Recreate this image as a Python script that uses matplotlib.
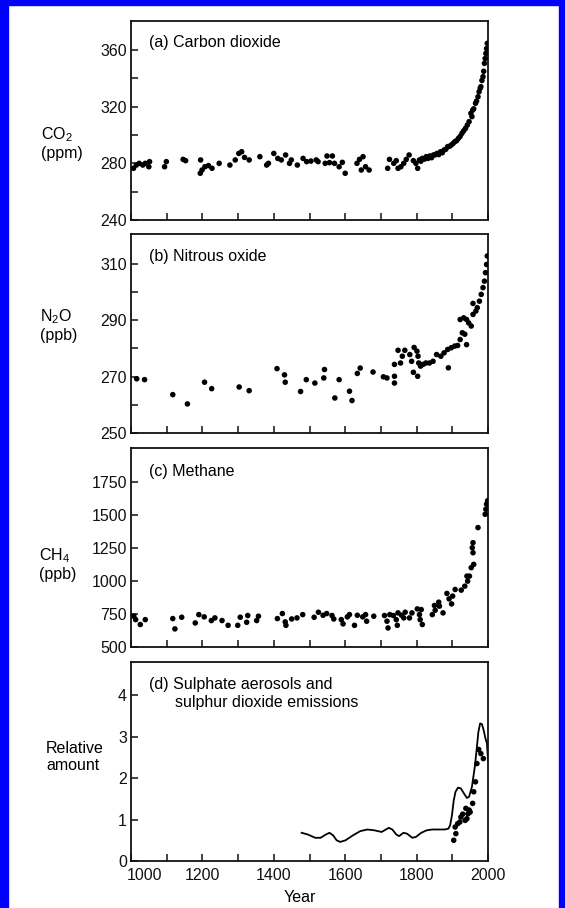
import matplotlib
matplotlib.use('Agg')
import matplotlib.pyplot as plt
from matplotlib.patches import Rectangle
import matplotlib.transforms as mtransforms

plt.rcParams['font.family'] = ['Liberation Sans', 'DejaVu Sans']
plt.rcParams['mathtext.fontset'] = 'custom'
plt.rcParams['mathtext.rm'] = 'Liberation Sans'
plt.rcParams['mathtext.it'] = 'Liberation Sans:italic'
plt.rcParams['mathtext.bf'] = 'Liberation Sans:bold'

# ---------------- data ----------------
co2_years = [1007, 1015, 1023, 1033, 1040, 1050, 1052, 1094, 1099, 1146, 1153,
             1195, 1194, 1199, 1207, 1217, 1227, 1247, 1277, 1292, 1302, 1310,
             1318, 1331, 1361, 1380, 1385, 1400, 1411, 1421, 1433, 1444, 1449,
             1466, 1482, 1492, 1504, 1519, 1524, 1544, 1549, 1556, 1564, 1570,
             1583, 1592, 1600, 1633, 1640, 1650, 1645, 1657, 1667, 1719, 1724,
             1736, 1743, 1748, 1756, 1764, 1771, 1779, 1791, 1798, 1803, 1808,
             1812, 1816, 1822, 1827, 1832, 1837, 1842, 1847, 1852, 1857, 1862,
             1867, 1872, 1877, 1882, 1887, 1892, 1897, 1902, 1907, 1912, 1917,
             1922, 1927, 1932, 1937, 1942, 1947, 1952, 1955, 1957, 1960, 1965,
             1968, 1972, 1975, 1978, 1980, 1983, 1986, 1988, 1990, 1992, 1994,
             1996, 1998]
co2_ppm = [276.5, 278.8, 280.0, 278.8, 280.0, 277.6, 281.2, 277.6, 281.2, 282.8, 281.9,
           282.4, 273.0, 275.3, 277.6, 278.4, 276.5, 280.0, 278.8, 282.4, 287.0, 288.2,
           284.2, 282.4, 284.7, 278.8, 280.0, 287.0, 283.5, 282.4, 285.9, 280.0, 282.4,
           278.8, 283.5, 281.2, 281.6, 282.4, 281.2, 280.0, 285.2, 280.5, 285.2, 280.0,
           277.6, 280.7, 273.0, 280.0, 282.8, 284.7, 275.3, 277.6, 275.3, 276.5, 282.8,
           280.0, 281.9, 276.5, 277.6, 280.0, 282.8, 285.9, 281.9, 280.0, 276.5, 282.4,
           281.5, 283.5, 283.0, 284.7, 283.5, 285.2, 284.0, 285.9, 286.0, 287.0, 286.2,
           288.2, 287.5, 289.4, 290.0, 291.8, 292.0, 292.9, 294.0, 295.3, 296.0, 297.6,
           299.0, 301.2, 303.0, 304.7, 307.0, 309.4, 315.3, 313.0, 317.6, 318.5, 322.4,
           324.0, 327.0, 330.5, 333.0, 334.1, 338.5, 341.2, 345.0, 350.6, 354.0, 357.6,
           361.0, 364.7]

n2o_years = [1016, 1038, 1117, 1158, 1206, 1226, 1303, 1331, 1409, 1430, 1432,
             1475, 1491, 1515, 1540, 1542, 1571, 1583, 1612, 1619, 1634, 1642,
             1678, 1707, 1717, 1738, 1738, 1738, 1748, 1755, 1760, 1767, 1781,
             1786, 1793, 1791, 1801, 1804, 1806, 1803, 1811, 1818, 1826, 1836,
             1846, 1856, 1868, 1877, 1887, 1889, 1897, 1907, 1915, 1922, 1928,
             1940, 1935, 1922, 1932, 1940, 1946, 1953, 1958, 1966, 1958, 1970,
             1976, 1981, 1986, 1990, 1993, 1996, 1998]
n2o_ppb = [269.2, 268.9, 263.6, 260.3, 268.0, 265.7, 266.3, 265.0, 272.8, 270.6, 268.0,
           264.7, 268.9, 267.7, 269.5, 272.5, 262.4, 268.9, 264.8, 261.5, 271.1, 273.0,
           271.6, 269.9, 269.5, 270.1, 267.7, 274.3, 279.3, 274.8, 277.2, 279.3, 277.8,
           275.4, 280.3, 271.5, 279.0, 277.2, 274.8, 270.1, 273.7, 274.3, 274.8, 274.8,
           275.4, 277.8, 277.2, 278.4, 279.6, 273.1, 280.2, 280.8, 281.0, 283.1, 285.5,
           281.3, 285.0, 290.2, 290.8, 290.2, 289.0, 287.9, 292.0, 293.2, 295.9, 294.4,
           296.7, 299.1, 301.5, 303.8, 306.8, 309.7, 312.7]

ch4_years = [1008, 1013, 1026, 1040, 1117, 1123, 1142, 1180, 1190, 1205, 1225,
             1235, 1255, 1272, 1299, 1306, 1324, 1327, 1352, 1357, 1410, 1424,
             1432, 1434, 1450, 1465, 1481, 1513, 1525, 1538, 1548, 1563, 1568,
             1589, 1594, 1606, 1612, 1626, 1634, 1649, 1657, 1660, 1680, 1710,
             1717, 1720, 1725, 1735, 1743, 1746, 1748, 1758, 1764, 1768, 1780,
             1787, 1802, 1808, 1810, 1816, 1813, 1844, 1850, 1852, 1862, 1864,
             1874, 1885, 1891, 1898, 1901, 1908, 1925, 1935, 1941, 1943, 1948,
             1953, 1956, 1958, 1960, 1958, 1972, 1992, 1994, 1996, 1999]
ch4_ppb = [733, 707, 670, 707, 715, 637, 725, 682, 745, 728, 700,
           720, 700, 664, 664, 725, 687, 738, 700, 733, 715, 753,
           690, 664, 712, 720, 745, 725, 763, 740, 753, 738, 712,
           707, 675, 728, 745, 664, 740, 728, 745, 695, 733, 738,
           695, 644, 745, 738, 707, 664, 758, 740, 720, 763, 720,
           758, 788, 745, 707, 670, 783, 745, 814, 778, 839, 809,
           758, 905, 864, 826, 885, 935, 930, 960, 1036, 998, 1036,
           1100, 1251, 1289, 1125, 1213, 1403, 1504, 1542, 1580, 1606]

so2_line_years = [1478, 1495, 1516, 1531, 1546, 1556, 1566, 1576, 1586, 1601,
                  1622, 1642, 1662, 1682, 1702, 1722, 1732, 1743, 1751, 1763,
                  1773, 1788, 1798, 1813, 1828, 1844, 1864, 1879, 1889, 1894,
                  1899, 1904, 1909, 1916, 1924, 1934, 1941, 1947, 1955, 1963,
                  1968, 1973, 1978, 1983, 1988, 1993, 1997, 2000]
so2_line_amount = [0.68, 0.64, 0.56, 0.56, 0.64, 0.68, 0.62, 0.50, 0.46, 0.50,
                   0.62, 0.72, 0.76, 0.74, 0.70, 0.80, 0.76, 0.64, 0.60, 0.68,
                   0.66, 0.56, 0.58, 0.68, 0.74, 0.76, 0.76, 0.76, 0.78, 0.86,
                   1.10, 1.46, 1.67, 1.77, 1.75, 1.61, 1.52, 1.55, 1.79, 2.27,
                   2.67, 3.11, 3.32, 3.30, 3.15, 2.95, 2.84, 2.43]

sulph_dot_years = [1904, 1910, 1908, 1915, 1921, 1924, 1929, 1936, 1941, 1938,
                   1944, 1950, 1947, 1957, 1960, 1965, 1969, 1974, 1980, 1987]
sulph_dot_amount = [0.50, 0.66, 0.82, 0.90, 0.94, 1.06, 1.13, 0.98, 1.02, 1.27,
                    1.14, 1.18, 1.23, 1.39, 1.67, 1.91, 2.35, 2.69, 2.59, 2.47]

year_ticks = list(range(1000, 2001, 100))

# ---------------- figure ----------------
W, H = 565, 908
fig = plt.figure(figsize=(W / 100, H / 100), dpi=100)

FS = 11.5
L, R = 131, 488


def make_ax(top, bottom):
    ax = fig.add_axes([L / W, 1 - bottom / H, (R - L) / W, (bottom - top) / H])
    for s in ax.spines.values():
        s.set_linewidth(1.3)
        s.set_color('#111111')
    ax.set_xlim(1000, 2000)
    ax.set_xticks(year_ticks)
    ax.tick_params(axis='both', which='both', direction='in', length=5,
                   width=1.1, labelsize=FS, pad=3, colors='#111111')
    ax.tick_params(axis='x', labelbottom=False)
    return ax


dot_kw = dict(s=16, color='black', edgecolors='none', zorder=3)

# (a) CO2
ax1 = make_ax(21, 220)
ax1.scatter(co2_years, co2_ppm, **dot_kw)
ax1.set_ylim(240, 380.5)
ax1.set_yticks([240, 280, 320, 360])
ax1.set_yticks([260, 300, 340], minor=True)
ax1.text(18 / (R - L), 1 - 22 / 199, '(a) Carbon dioxide', transform=ax1.transAxes,
         fontsize=FS, va='center', ha='left')

# (b) N2O
ax2 = make_ax(234, 433)
ax2.scatter(n2o_years, n2o_ppb, **dot_kw)
ax2.set_ylim(250, 320.5)
ax2.set_yticks([250, 270, 290, 310])
ax2.set_yticks([260, 280, 300], minor=True)
ax2.text(18 / (R - L), 1 - 23 / 199, '(b) Nitrous oxide', transform=ax2.transAxes,
         fontsize=FS, va='center', ha='left')

# (c) CH4
ax3 = make_ax(448, 647)
ax3.scatter(ch4_years, ch4_ppb, **dot_kw)
ax3.set_ylim(500, 2005)
ax3.set_yticks([500, 750, 1000, 1250, 1500, 1750])
ax3.text(18 / (R - L), 1 - 23 / 199, '(c) Methane', transform=ax3.transAxes,
         fontsize=FS, va='center', ha='left')

# (d) Sulphate
ax4 = make_ax(662, 861)
ax4.plot(so2_line_years, so2_line_amount, color='black', lw=1.3, zorder=2)
ax4.scatter(sulph_dot_years, sulph_dot_amount, **dot_kw)
ax4.set_ylim(0, 4.8)
ax4.set_yticks([0, 1, 2, 3, 4])
ax4.tick_params(axis='x', labelbottom=True, pad=5)
ax4.set_xticks(year_ticks)
ax4.set_xticklabels([str(y) if (y % 200 == 0) else '' for y in year_ticks])
first = ax4.get_xticklabels()[0]
first.set_horizontalalignment('left')
first.set_transform(first.get_transform() +
                    mtransforms.ScaledTranslation(-4 / 100, 0, fig.dpi_scale_trans))
ax4.text(18 / (R - L), 1 - 22 / 199, '(d) Sulphate aerosols and', transform=ax4.transAxes,
         fontsize=FS, va='center', ha='left')
ax4.text(44 / (R - L), 1 - 41 / 199, 'sulphur dioxide emissions', transform=ax4.transAxes,
         fontsize=FS, va='center', ha='left')

# y-axis labels
lab_kw = dict(fontsize=FS, ha='left', va='center', multialignment='left', linespacing=1.15)
fig.text(41 / W, 1 - 143 / H, 'CO$_2$\n(ppm)', **lab_kw)
fig.text(40 / W, 1 - 325 / H, 'N$_2$O\n(ppb)', **lab_kw)
fig.text(39 / W, 1 - 564 / H, 'CH$_4$\n(ppb)', **lab_kw)
fig.text(46 / W, 1 - 757 / H, 'Relative\namount', **lab_kw)
fig.text(300 / W, 1 - 898 / H, 'Year', fontsize=FS, ha='center', va='center')

# blue frame
blue = '#0000FF'
fig.patches.append(Rectangle((0, 0), 8 / W, 1, transform=fig.transFigure,
                             color=blue, zorder=10))
fig.patches.append(Rectangle((559 / W, 0), 6 / W, 1, transform=fig.transFigure,
                             color=blue, zorder=10))
fig.patches.append(Rectangle((0, 1 - 5 / H), 1, 5 / H, transform=fig.transFigure,
                             color=blue, zorder=10))

fig.savefig('out.png', dpi=100)
